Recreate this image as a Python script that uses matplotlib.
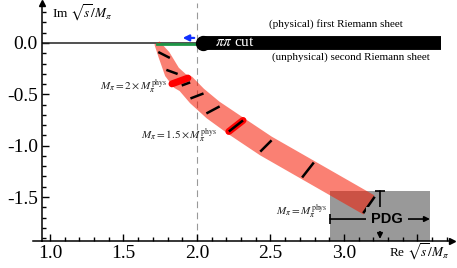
import numpy as np
import matplotlib
matplotlib.use("Agg")
import matplotlib.pyplot as plt
from matplotlib.patches import Rectangle, Polygon
from matplotlib.ticker import MultipleLocator, FuncFormatter

plt.rcParams['font.family'] = ['Liberation Serif', 'DejaVu Serif']
plt.rcParams['mathtext.fontset'] = 'stix'
plt.rcParams['axes.unicode_minus'] = False

# pole trajectory (Re, Im of sqrt(s)/M_pi)
band_re = [1.728, 1.776, 1.830, 1.884, 1.925, 2.000, 2.109, 2.265, 2.469, 2.755, 3.170]
band_im = [0.000, -0.117, -0.282, -0.370, -0.399, -0.516, -0.652, -0.808, -1.003, -1.237, -1.577]
black_idx = [1, 2, 4, 5, 6, 7, 8, 9, 10]
red_idx = [3, 7]
# orientation (deg, on screen) and length (px) of the error dashes at each point
dash_angle = [0, -27, -20, 20, 20, 21, 28, 38, 45, 52, 55]
dash_len = [0, 13, 12, 17, 9, 14, 15, 18, 16, 19, 20]
red_labels = [r'$M_\pi = 2\times M_\pi^{\rm phys}$', r'$M_\pi = 1.5\times M_\pi^{\rm phys}$']
phys_label = r'$M_\pi = M_\pi^{\rm phys}$'

# PDG pole with errors
pdg_re, pdg_re_err = 3.245, 0.34
pdg_im, pdg_im_err = -1.714, 0.273

threshold = 2.0
cut_end = 3.66

xticks = [1.0, 1.5, 2.0, 2.5, 3.0, 3.5]
xticklabels = ['1.0', '1.5', '2.0', '2.5', '3.0', '']
yticks = [-1.5, -1.0, -0.5, 0.0]

fig = plt.figure(figsize=(4.57, 2.68), dpi=100)
ax = fig.add_axes([42 / 457, 27 / 268, 410 / 457, 238 / 268])
ax.set_xlim(0.9456, 3.735)
ax.set_ylim(-1.928, 0.389)

for s in ['top', 'right']:
    ax.spines[s].set_visible(False)
for s in ['left', 'bottom']:
    ax.spines[s].set_linewidth(1.1)
ax.set_xticks(xticks, labels=xticklabels)
ax.set_yticks(yticks)
ax.yaxis.set_major_formatter(FuncFormatter(lambda v, p: f'{v:.1f}'))
ax.xaxis.set_minor_locator(MultipleLocator(0.1))
ax.yaxis.set_minor_locator(MultipleLocator(0.1))
ax.tick_params(which='both', direction='in', labelsize=14, pad=3, width=1.0)
ax.tick_params(which='major', length=5)
ax.tick_params(which='minor', length=2.8)

# axis arrows
ax.plot(0, 1, '^', ms=5, color='k', transform=ax.transAxes, clip_on=False)
ax.plot(1, 0, '>', ms=5, color='k', transform=ax.transAxes, clip_on=False)
ax.plot([0.884, 0.9456], [-1.928, -1.928], color='k', lw=1.1, clip_on=False)

ax.text(1.014, 0.292, r'Im $\sqrt{s}/M_\pi$', fontsize=9.5, ha='left', va='center')
ax.text(3.72, -2.035, r'Re $\sqrt{s}/M_\pi$', fontsize=9.5, ha='right', va='center', clip_on=False)

# threshold line, real axis, cut
ax.axvline(threshold, color='#999999', lw=0.8, ls=(0, (6, 4)), zorder=1)
ax.plot([0.9456, threshold], [0, 0], color='#222222', lw=1.1, zorder=2)
ax.plot([band_re[0], threshold], [-0.015, -0.015], color='#1e9646', lw=2, zorder=3)
ax.annotate('', xy=(1.884, 0.049), xytext=(threshold, 0.049),
            arrowprops=dict(arrowstyle='-|>', color='#1030ff', lw=1.6, mutation_scale=9), zorder=4)
ax.plot([threshold + 0.04, cut_end], [0, 0], color='k', lw=10, solid_capstyle='butt', zorder=4)
ax.plot(threshold + 0.04, 0, 'o', ms=10, color='k', zorder=4)
ax.text(2.255, 0.0, r'$\pi\pi$ cut', color='white', fontsize=11, ha='center', va='center', zorder=5)
ax.text(2.946, 0.185, '(physical) first Riemann sheet', fontsize=8, ha='center', va='center')
ax.text(3.048, -0.136, '(unphysical) second Riemann sheet', fontsize=8, ha='center', va='center')

# PDG box
ax.add_patch(Rectangle((pdg_re - pdg_re_err, pdg_im - pdg_im_err), 2 * pdg_re_err, 2 * pdg_im_err,
                       facecolor='#999999', edgecolor='none', zorder=1))

# band around the trajectory, built in pixel space
P = ax.transData.transform(np.column_stack([band_re, band_im]))
halfw = np.array([3, 6, 8, 9, 9.5, 10, 10.5, 11, 11, 11, 11])
t = np.gradient(P, axis=0)
t = t / np.linalg.norm(t, axis=1)[:, None]
n = np.column_stack([-t[:, 1], t[:, 0]])
poly = np.vstack([P + n * halfw[:, None], (P - n * halfw[:, None])[::-1]])
poly = ax.transData.inverted().transform(poly)
ax.add_patch(Polygon(poly, closed=True, facecolor='#f61800', alpha=0.55, edgecolor='none', zorder=2))


def seg(i):
    a = np.deg2rad(dash_angle[i])
    d = np.array([np.cos(a), np.sin(a)]) * dash_len[i] / 2
    return ax.transData.inverted().transform(np.array([P[i] - d, P[i] + d]))


for i in red_idx:
    e = seg(i)
    ax.plot(e[:, 0], e[:, 1], color='red', lw=5, solid_capstyle='round', zorder=3)
for i in black_idx:
    e = seg(i)
    ax.plot(e[:, 0], e[:, 1], color='k', lw=1.8, solid_capstyle='butt', zorder=4)

ax.text(1.796, -0.458, red_labels[0], fontsize=8, ha='right', va='baseline', color='#222222')
ax.text(2.136, -0.935, red_labels[1], fontsize=8, ha='right', va='baseline', color='#222222')
ax.text(2.891, -1.675, phys_label, fontsize=8, ha='right', va='baseline', color='#222222')

# PDG cross
ax.annotate('', xy=(pdg_re + pdg_re_err, pdg_im), xytext=(pdg_re - pdg_re_err, pdg_im),
            arrowprops=dict(arrowstyle='-|>', color='k', lw=1.2, mutation_scale=8, shrinkA=0, shrinkB=0), zorder=5)
ax.plot(pdg_re - pdg_re_err, pdg_im, '|', ms=7, mew=1.2, color='k', zorder=5)
ax.annotate('', xy=(pdg_re, -1.908), xytext=(pdg_re, pdg_im + pdg_im_err),
            arrowprops=dict(arrowstyle='-|>', color='k', lw=1.2, mutation_scale=8, shrinkA=0, shrinkB=0), zorder=5)
ax.plot(pdg_re, pdg_im + pdg_im_err, '_', ms=7, mew=1.2, color='k', zorder=5)
ax.text(3.293, pdg_im, 'PDG', family='Liberation Sans', fontweight='bold', fontsize=10.5,
        ha='center', va='center', zorder=6,
        bbox=dict(boxstyle='square,pad=0.35', facecolor='#999999', edgecolor='none'))

fig.savefig('out.png', dpi=100)
